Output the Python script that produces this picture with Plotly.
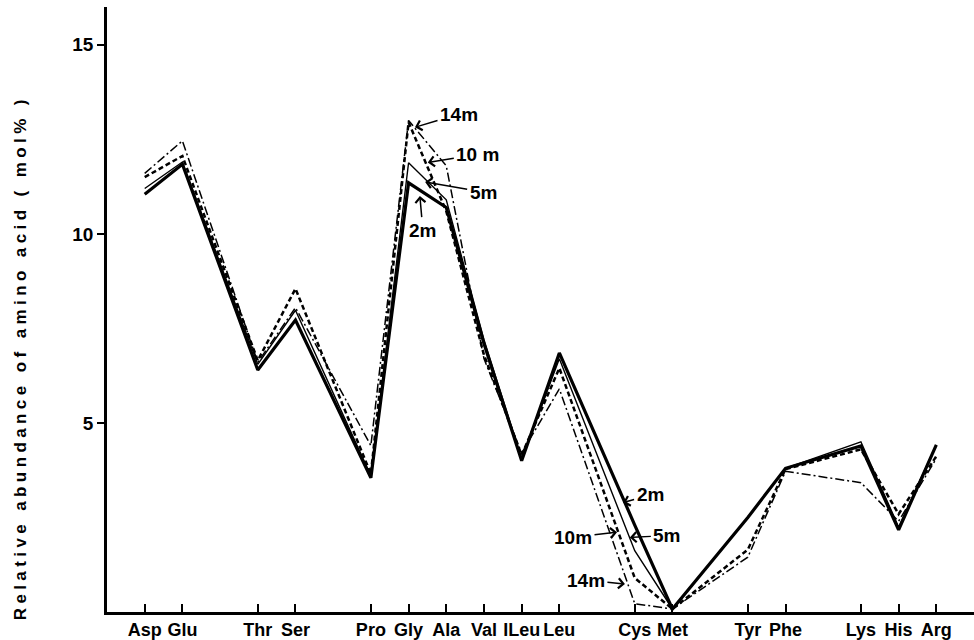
import plotly.graph_objects as go

# Amino acids along the x axis, with gaps between groups
amino_acids = ["Asp", "Glu", "Thr", "Ser", "Pro", "Gly", "Ala", "Val", "ILeu",
               "Leu", "Cys", "Met", "Tyr", "Phe", "Lys", "His", "Arg"]
positions = [1, 2, 4, 5, 7, 8, 9, 10, 11, 12, 14, 15, 17, 18, 20, 21, 22]

# Relative abundance (mol%) at each depth
depth_2m = [11.05, 11.84, 6.40, 7.72, 3.55, 11.35, 10.7, 7.1, 4.0, 6.85,
            2.3, 0.08, 2.5, 3.8, 4.39, 2.17, 4.42]
depth_5m = [11.2, 11.9, 6.55, 7.98, 3.6, 11.88, 10.9, 7.2, 4.05, 6.7,
            1.62, 0.08, 2.5, 3.8, 4.5, 2.25, 4.42]
depth_10m = [11.5, 12.06, 6.65, 8.55, 3.65, 12.95, 10.6, 6.8, 4.15, 6.45,
             0.9, 0.08, 1.65, 3.78, 4.3, 2.59, 4.12]
depth_14m = [11.6, 12.46, 6.6, 8.05, 4.4, 13.0, 11.8, 6.7, 4.2, 5.9,
             0.22, 0.08, 1.45, 3.72, 3.42, 2.4, 4.06]

y_ticks = [5, 10, 15]

FONT = "Liberation Sans, Arial, sans-serif"

fig = go.Figure()

series = [
    ("14m", depth_14m, dict(color="black", width=1.5, dash="9px,3px,2px,3px")),
    ("10m", depth_10m, dict(color="black", width=2.5, dash="5px,3px")),
    ("5m", depth_5m, dict(color="black", width=1.4)),
    ("2m", depth_2m, dict(color="black", width=3.2)),
]
for name, vals, line in series:
    fig.add_trace(go.Scatter(x=positions, y=vals, mode="lines", name=name,
                             line=line, showlegend=False))

# Depth labels with arrows pointing at the curves
labels = [
    # text, tip x, tip y, ax, ay
    ("14m", 8.17, 12.82, 44, -13),
    ("10 m", 8.51, 11.89, 50, -8),
    ("5m", 8.44, 11.37, 58, 10),
    ("2m", 8.30, 11.00, 3, 34),
    ("2m", 13.69, 2.89, 27, -8),
    ("5m", 13.87, 1.97, 37, -2),
    ("10m", 13.53, 2.11, -44, 5),
    ("14m", 13.74, 0.74, -39, -4),
]
for text, tx, ty, ax, ay in labels:
    fig.add_annotation(x=tx, y=ty, xref="x", yref="y", text=text,
                       showarrow=True, ax=ax, ay=ay, arrowhead=4,
                       arrowsize=1.3, arrowwidth=1.5, arrowcolor="black",
                       standoff=0, startstandoff=1,
                       font=dict(family=FONT, size=19, color="black", weight="bold"))

# Vertical axis title
fig.add_annotation(
    xref="paper", yref="paper", x=-0.112, y=0.42, textangle=-90,
    text='<span style="letter-spacing:4.4px">Relative abundance of amino acid ( mol% )</span>',
    showarrow=False, font=dict(family=FONT, size=17, color="black", weight="bold"),
)

fig.update_layout(
    width=974, height=640,
    margin=dict(l=107, r=0, t=7, b=25),
    paper_bgcolor="white", plot_bgcolor="white",
    xaxis=dict(range=[0, 23], tickvals=positions, ticktext=amino_acids,
               ticks="inside", ticklen=8, tickwidth=2, tickcolor="black",
               showline=True, linecolor="black", linewidth=2.5,
               showgrid=False, zeroline=False,
               tickfont=dict(family=FONT, size=18, color="black", weight="bold")),
    yaxis=dict(range=[0, 16], tickvals=y_ticks,
               ticks="outside", ticklen=7, tickwidth=2, tickcolor="black",
               showline=True, linecolor="black", linewidth=2.5,
               showgrid=False, zeroline=False,
               tickfont=dict(family=FONT, size=19, color="black", weight="bold")),
)

fig.write_html("out.html")
